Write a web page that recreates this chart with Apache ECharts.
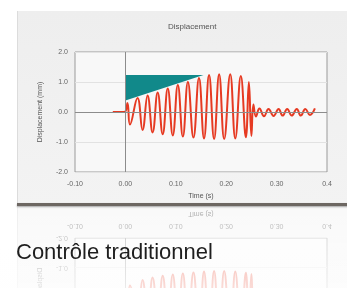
<!DOCTYPE html>
<html>
<head>
<meta charset="utf-8">
<script src="https://cdn.jsdelivr.net/npm/echarts@6/dist/echarts.min.js"></script>
<style>
  html, body { margin: 0; padding: 0; background: #fff; }
  body { width: 347px; height: 288px; overflow: hidden; position: relative; font-family: 'Liberation Sans', Arial, sans-serif; }
  .card { position: absolute; left: 17px; width: 340px; height: 194px; background: linear-gradient(#eeeeee, #f3f3f3); border-left: 1px solid #dcdcdc; }
  #main { top: 11px; }
  #mirror { top: 205px; transform: scaleY(-1); }
  #edge { position: absolute; left: 17px; top: 203px; width: 340px; height: 3px; background: #6d6762; box-shadow: 0 1px 2px rgba(0,0,0,0.35); }
  #fade { position: absolute; left: 0; top: 206px; width: 347px; height: 82px; background: linear-gradient(rgba(255,255,255,0.5), rgba(255,255,255,0.82)); }
  #caption { position: absolute; left: 16px; top: 239px; font-size: 22px; color: #1e1e1e; }
</style>
</head>
<body>
<div class="card" id="main"></div>
<div class="card" id="mirror"></div>
<div id="fade"></div>
<div id="edge"></div>
<div id="caption">Contrôle traditionnel</div>
<script>
// displacement trace, read at the turning points of the curve
const times = [-0.025, -0.002, 0.004, 0.009, 0.024, 0.034, 0.044, 0.054, 0.064, 0.074,
  0.084, 0.094, 0.104, 0.114, 0.124, 0.135, 0.146, 0.156, 0.166, 0.176,
  0.186, 0.196, 0.208, 0.218, 0.229, 0.239, 0.245, 0.25, 0.254, 0.259,
  0.266, 0.275, 0.284, 0.294, 0.304, 0.312, 0.321, 0.33, 0.34, 0.348,
  0.357, 0.366, 0.376]
const disp = [0, 0, 0.3, -0.42, 0.47, -0.6, 0.55, -0.68, 0.65, -0.74,
  0.78, -0.78, 0.9, -0.82, 1.0, -0.85, 1.13, -0.88, 1.23, -0.9,
  1.26, -0.9, 1.26, -0.88, 1.2, -0.84, 1.0, -0.8, 0.25, -0.15,
  0.12, -0.14, 0.1, -0.13, 0.1, -0.12, 0.1, -0.12, 0.1, -0.12,
  0.1, -0.1, 0.12]

// teal wedge
const wedgeTimes = [0, 0, 0.155]
const wedgeValues = [0.38, 1.23, 1.23]

const xTicks = ['-0.10', '0.00', '0.10', '0.20', '0.30', '0.4']
const yTicks = ['-2.0', '-1.0', '0.0', '1.0', '2.0']

const buildOption = () => ({
  animation: false,
  title: {
    text: 'Displacement',
    left: 145,
    top: 7,
    textStyle: { fontSize: 8, fontWeight: 'normal', color: '#555', fontFamily: 'Liberation Sans' },
  },
  grid: {
    left: 57, top: 41, width: 252, height: 121,
    show: true, backgroundColor: '#f8f8f8', borderColor: '#9a9a9a', borderWidth: 1,
  },
  xAxis: {
    type: 'value', min: -0.1, max: 0.4, interval: 0.1,
    name: 'Time (s)', nameLocation: 'middle', nameGap: 21,
    nameTextStyle: { fontSize: 7, color: '#555' },
    axisLine: { show: false }, axisTick: { show: false },
    splitLine: { show: false },
    axisLabel: {
      fontSize: 7, color: '#666', margin: 9,
      formatter: (v) => xTicks[Math.round((v + 0.1) * 10)],
    },
  },
  yAxis: {
    type: 'value', min: -2, max: 2, interval: 1,
    name: 'Displacement (mm)', nameLocation: 'middle', nameGap: 31,
    nameTextStyle: { fontSize: 7, color: '#555' },
    axisLine: { show: false }, axisTick: { show: false },
    splitLine: { lineStyle: { color: '#e2e2e2' } },
    axisLabel: {
      fontSize: 7, color: '#666', margin: 7,
      formatter: (v) => yTicks[Math.round(v + 2)],
    },
  },
  series: [
    {
      // zero lines, kept under the trace
      type: 'line',
      z: 2,
      data: [],
      markLine: {
        silent: true, symbol: 'none', label: { show: false },
        lineStyle: { color: '#8c8c8c', type: 'solid', width: 1 },
        data: [{ xAxis: 0 }, { yAxis: 0 }],
      },
    },
    {
      type: 'custom',
      silent: true,
      z: 3,
      data: [0],
      renderItem: (params, api) => ({
        type: 'polygon',
        shape: { points: wedgeTimes.map((t, i) => api.coord([t, wedgeValues[i]])) },
        style: { fill: '#11898a' },
      }),
    },
    {
      type: 'line',
      z: 4,
      data: times.map((t, i) => [t, disp[i]]),
      smooth: 0.45,
      showSymbol: false,
      lineStyle: { color: '#e63a22', width: 2 },
    },
  ],
})

const mainChart = echarts.init(document.getElementById('main'))
mainChart.setOption(buildOption())
const mirrorChart = echarts.init(document.getElementById('mirror'))
mirrorChart.setOption(buildOption())
</script>
</body>
</html>
